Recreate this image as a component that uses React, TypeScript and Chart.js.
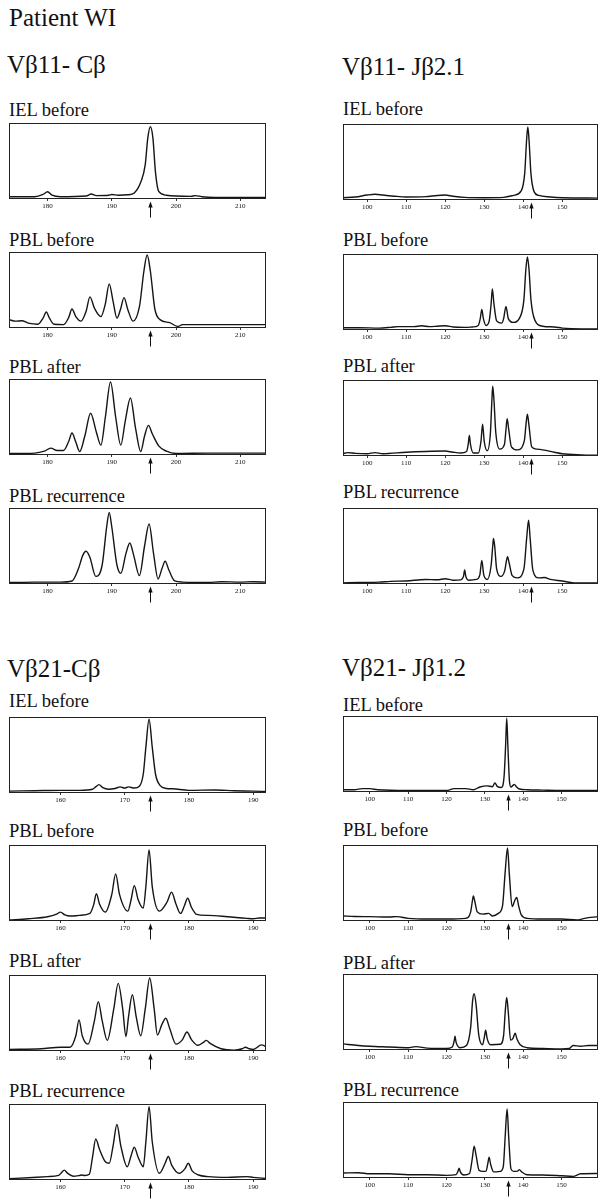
import React, { useEffect, useRef } from "react";
import { Chart, registerables } from "chart.js";

Chart.register(...registerables);

type Pt = [number, number];

// ---- axis data ----
const v11cTicks = [180, 190, 200, 210];
const v11jTicks = [100, 110, 120, 130, 140, 150];
const v21cTicks = [160, 170, 180, 190];
const v21jTicks = [100, 110, 120, 130, 140, 150];

const v11cRange: [number, number] = [174, 214];
const v11jRange: [number, number] = [93.8, 159.2];
const v21cRange: [number, number] = [152, 192];
const v21jRange: [number, number] = [93, 159.5];

const v11cArrow = 196;
const v11jArrow = 142;
const v21cArrow = 174;
const v21jArrow = 136;

// ---- traces (x = size, y = % of panel height) ----
const v11cIelBefore: Pt[] = [[174,3],[178,3],[179.3,6],[180,9.5],[180.7,5],[182,3],[186,4],[186.8,6.5],[187.6,4.5],[189.5,5],[190,6],[191,5],[192.5,5.5],[193.5,8],[194.5,22],[195.2,45],[195.6,80],[196,95],[196.4,80],[196.8,35],[197.3,10],[198.5,5],[200,4],[202.3,3.5],[203,4.5],[204,3],[206,2],[214,2]];
const v11cPblBefore: Pt[] = [[174,11],[175,9],[176,9.5],[177,6.5],[178.5,5],[179.3,13],[179.8,21],[180.3,13],[181,5],[182.5,4.5],[183.3,14],[183.8,25],[184.4,15],[185.2,9],[186,22],[186.6,41],[187.3,26],[188.3,15],[189,32],[189.6,58],[190.2,35],[190.8,13],[191.4,26],[191.9,40],[192.5,24],[193.3,9],[194.3,28],[195,75],[195.5,96],[196,75],[196.7,25],[197.5,11],[199,7],[200.3,2],[201,4.5],[205,4.5],[210,4.5],[214,4.5]];
const v11cPblAfter: Pt[] = [[174,2],[178,2.5],[179.5,5],[180.5,9],[181.5,6],[182.5,6],[183.3,18],[183.8,29],[184.4,17],[185,4.5],[185.8,25],[186.7,55],[187.6,30],[188.3,13],[189,50],[189.8,96],[190.6,50],[191.4,13],[192.1,45],[192.9,75],[193.7,35],[194.5,4.5],[195.1,25],[195.7,39],[196.3,28],[197.3,12],[198.5,5],[200,2],[205,2.5],[210,2.5],[214,2.5]];
const v11cPblRecurrence: Pt[] = [[174,2],[178,2.5],[182,2.5],[183.8,4],[184.8,20],[185.5,38],[186,43],[186.6,35],[187.5,10],[188.5,25],[189.2,75],[189.6,94],[190,75],[190.8,25],[191.4,14],[192.2,40],[192.8,54],[193.4,38],[194.3,11],[195.1,50],[195.8,79],[196.5,40],[197.2,6.5],[197.8,20],[198.3,30],[198.9,18],[199.8,4],[201,2.5],[205,2],[207,3],[210,2.5],[212,3],[214,2.5]];

const v11jIelBefore: Pt[] = [[93.8,3],[97,4],[100,6.5],[102,7.5],[104,6.5],[107,5],[110,4],[115,4.5],[118,6],[120,6.5],[122,5],[125,3.5],[130,3],[135,3.5],[137.5,6],[139.5,12],[140.4,35],[140.9,80],[141.2,96],[141.5,80],[142,35],[142.8,11],[144,6],[147,4],[150,3],[159.2,2.5]];
const v11jPblBefore: Pt[] = [[93.8,3],[98,3],[103,2.5],[106,3.5],[108,4.5],[112,4.5],[114,5.5],[116,4.5],[118,5],[120,5.5],[122,4],[125,3.5],[127,4],[128.5,6],[129,15],[129.4,27],[129.8,15],[130.5,6],[131.3,12],[131.8,35],[132.1,54],[132.5,35],[133.2,12],[134.5,9],[135,15],[135.6,31],[136.2,15],[137.5,10],[139,15],[140.2,40],[140.7,80],[141.1,96],[141.5,80],[142,40],[143,13],[145,5],[148,4],[150,2.5],[155,1.5],[159.2,1.5]];
const v11jPblAfter: Pt[] = [[93.8,3],[95,4.5],[97,3.5],[100,3],[102,4.5],[104,3],[110,5],[115,6],[120,6.5],[122,5],[124,4],[125.5,6],[125.9,15],[126.2,27],[126.5,15],[127.2,4],[128.5,4],[129.2,20],[129.6,42],[130,20],[130.8,7],[131.6,30],[132,75],[132.2,92],[132.5,75],[133,30],[134,9],[135.2,15],[135.6,35],[135.9,49],[136.3,35],[137,12],[138.5,8],[140.3,20],[140.8,45],[141.1,55],[141.5,40],[142.2,12],[143.5,9],[145,8],[148,5],[150,3],[155,1.5],[159.2,1]];
const v11jPblRecurrence: Pt[] = [[93.8,1.5],[98,2],[103,2.5],[106,3.5],[110,4],[115,6],[118,5.5],[120,7],[122,5],[124,5.5],[124.7,10],[125,18.5],[125.3,10],[126,5],[128,6],[128.9,12],[129.4,31],[129.9,12],[130.8,6],[131.8,25],[132.2,50],[132.4,60],[132.7,50],[133.2,20],[134.3,10],[135.3,18],[135.7,30],[136,36],[136.4,28],[137.2,11],[138.5,8],[140.2,20],[140.9,60],[141.4,84],[141.8,60],[142.5,18],[144,8],[145.5,8.5],[147,6],[150,4],[153,1.5],[159.2,1.5]];

const v21cIelBefore: Pt[] = [[152,2.5],[156,3],[160,3.5],[163,3.5],[165,5],[165.5,8],[166,11],[166.6,7],[167.5,5],[168.5,6],[169.3,8],[170,6.5],[170.6,8],[171.5,6.5],[172.3,9],[172.9,25],[173.3,60],[173.8,97],[174.3,60],[174.8,25],[175.5,10],[176.5,6],[177.5,5.5],[180,3.5],[184,4],[187,3],[190,2.5],[192,2]];
const v21cPblBefore: Pt[] = [[152,1.3],[155,3],[158,5.6],[159.4,9],[160,11.7],[160.7,8],[161.5,6.5],[163,7.4],[164.6,10],[165.2,22],[165.6,36],[166.1,22],[167,11.7],[168,35],[168.6,62],[169.2,35],[170.5,13],[171,28],[171.5,46.5],[172.1,28],[172.9,17],[173.3,45],[173.8,93.5],[174.3,45],[175.4,13],[176.6,25],[177.3,38],[178,22],[178.7,10],[179.3,20],[179.8,30],[180.4,18],[181.2,8.7],[183,7.4],[186,5.6],[189,3.5],[190,3],[191,4],[192,4]];
const v21cPblAfter: Pt[] = [[152,2],[157,3],[160,5],[161.5,5],[162.4,20],[162.9,41],[163.4,20],[164.3,9],[165.3,40],[165.9,65],[166.5,40],[167.3,14],[168.3,55],[169,89],[169.7,55],[170.2,19],[170.6,45],[171.2,74],[171.8,45],[172.5,20],[173.2,55],[173.9,96],[174.6,55],[175.1,21],[175.8,35],[176.4,43],[177,30],[178,9],[179,15],[179.7,25],[180.4,15],[181.4,7.5],[182.2,11],[182.7,14],[183.3,10],[185,3],[187,1],[188.3,3],[188.8,5],[189.4,3],[190,2],[191.3,8],[192,6]];
const v21cPblRecurrence: Pt[] = [[152,1.7],[155,3],[158,4.4],[159.7,6],[160.2,10],[160.6,13],[161.1,9],[162,5],[163,6],[163.3,6.5],[163.8,6],[164.5,7.5],[165,30],[165.5,54],[166.1,40],[167,24],[167.6,22],[168.2,45],[168.8,73],[169.4,45],[170.4,17.5],[171,32],[171.5,43],[172.1,30],[172.9,17.5],[173.3,50],[173.8,96.5],[174.3,50],[175.4,8.8],[176.3,22],[176.8,31],[177.3,20],[178.5,8.8],[179.4,15],[179.9,22],[180.5,12],[181.5,6.6],[183,4.4],[186,3.5],[189,4.4],[190,3.5],[192,2]];

const v21jIelBefore: Pt[] = [[93,3],[96,3],[98,4.4],[100,4.4],[102,3],[110,2],[120,2],[122,4.4],[125,4.4],[127,3],[128.7,6.6],[130.5,8],[132,7],[132.6,12],[133.3,7],[134.3,6],[135,20],[135.4,60],[135.7,97],[136,60],[136.4,15],[136.8,6.6],[137.4,9],[137.7,10],[138.2,7],[139,4],[141,3],[145,2.5],[150,2],[159.5,2]];
const v21jPblBefore: Pt[] = [[93,6.6],[96,6],[100,5.7],[105,5.2],[107,5.8],[110,3.5],[115,2.6],[120,2.6],[125,3.5],[126.3,12],[126.7,25],[127,33],[127.4,25],[128,12],[129.5,9],[131,10],[132,6.6],[133.5,10],[134.6,20],[135.3,65],[135.9,96],[136.4,60],[137.1,19],[137.8,27],[138.3,31],[138.8,20],[139.5,8],[141,3.5],[145,2.6],[150,2.6],[154,1.3],[156,3.5],[159.5,5.7]];
const v21jPblAfter: Pt[] = [[93,8],[97,6],[100,5],[105,4],[110,3],[112,4.5],[115,2.5],[120,2],[121.5,4],[122,12],[122.2,18],[122.5,10],[123.5,3],[125.2,6],[126.3,30],[126.8,65],[127.2,74],[127.7,60],[128.4,20],[129.4,7],[129.9,18],[130.2,26],[130.6,15],[131.5,7],[134,7.5],[134.9,20],[135.3,50],[135.7,69],[136.1,50],[136.7,13],[137.3,15],[137.9,22],[138.4,14],[139.2,7],[141,3],[145,2],[150,1.5],[152,2],[153,6],[155,5],[157,6],[159.5,6]];
const v21jPblRecurrence: Pt[] = [[93,6.5],[97,7],[100,5.6],[105,5.6],[110,4.3],[115,4.3],[120,3.5],[122.5,4.5],[123,9],[123.3,13],[123.6,8],[124.5,4],[126,6],[126.7,25],[127.2,42],[127.7,30],[128.5,10],[129.5,8.7],[130.3,9],[130.8,20],[131.1,27.5],[131.5,18],[132.3,8],[134,8.7],[134.8,15],[135.3,55],[135.8,91],[136.2,55],[136.8,12],[137.5,8.7],[138.5,9],[139,11],[139.6,8],[141,4.3],[145,4],[150,3],[153,2.2],[155,5.6],[159.5,6]];

// ---- layout ----
const FONT = "'Liberation Serif', 'Times New Roman', serif";
const BOX_H = 76;
const PAD = 2;
const AXIS_H = 20;

type PanelCfg = {
  label: string;
  series: Pt[];
  ticks: number[];
  range: [number, number];
  arrow: number;
  left: number;
  top: number;
  width: number;
  labelBase: number;
};

const L = { left: 9, width: 257 };
const R = { left: 343, width: 255 };

const panels: PanelCfg[] = [
  { label: "IEL before", series: v11cIelBefore, ticks: v11cTicks, range: v11cRange, arrow: v11cArrow, ...L, top: 123, labelBase: 117 },
  { label: "PBL before", series: v11cPblBefore, ticks: v11cTicks, range: v11cRange, arrow: v11cArrow, ...L, top: 252, labelBase: 247 },
  { label: "PBL after", series: v11cPblAfter, ticks: v11cTicks, range: v11cRange, arrow: v11cArrow, ...L, top: 379, labelBase: 374 },
  { label: "PBL recurrence", series: v11cPblRecurrence, ticks: v11cTicks, range: v11cRange, arrow: v11cArrow, ...L, top: 508, labelBase: 503 },
  { label: "IEL before", series: v11jIelBefore, ticks: v11jTicks, range: v11jRange, arrow: v11jArrow, ...R, top: 124, labelBase: 116 },
  { label: "PBL before", series: v11jPblBefore, ticks: v11jTicks, range: v11jRange, arrow: v11jArrow, ...R, top: 254, labelBase: 247 },
  { label: "PBL after", series: v11jPblAfter, ticks: v11jTicks, range: v11jRange, arrow: v11jArrow, ...R, top: 380, labelBase: 373 },
  { label: "PBL recurrence", series: v11jPblRecurrence, ticks: v11jTicks, range: v11jRange, arrow: v11jArrow, ...R, top: 508, labelBase: 499 },
  { label: "IEL before", series: v21cIelBefore, ticks: v21cTicks, range: v21cRange, arrow: v21cArrow, ...L, top: 717, labelBase: 708 },
  { label: "PBL before", series: v21cPblBefore, ticks: v21cTicks, range: v21cRange, arrow: v21cArrow, ...L, top: 845, labelBase: 838 },
  { label: "PBL after", series: v21cPblAfter, ticks: v21cTicks, range: v21cRange, arrow: v21cArrow, ...L, top: 975, labelBase: 968 },
  { label: "PBL recurrence", series: v21cPblRecurrence, ticks: v21cTicks, range: v21cRange, arrow: v21cArrow, ...L, top: 1104, labelBase: 1098 },
  { label: "IEL before", series: v21jIelBefore, ticks: v21jTicks, range: v21jRange, arrow: v21jArrow, ...R, top: 716, labelBase: 712 },
  { label: "PBL before", series: v21jPblBefore, ticks: v21jTicks, range: v21jRange, arrow: v21jArrow, ...R, top: 845, labelBase: 837 },
  { label: "PBL after", series: v21jPblAfter, ticks: v21jTicks, range: v21jRange, arrow: v21jArrow, ...R, top: 974, labelBase: 970 },
  { label: "PBL recurrence", series: v21jPblRecurrence, ticks: v21jTicks, range: v21jRange, arrow: v21jArrow, ...R, top: 1102, labelBase: 1097 },
];

const headings = [
  { text: "Patient WI", left: 9, base: 26, size: 25 },
  { text: "Vβ11- Cβ", left: 7, base: 73, size: 25 },
  { text: "Vβ11- Jβ2.1", left: 342, base: 75, size: 25 },
  { text: "Vβ21-Cβ", left: 7, base: 677, size: 25 },
  { text: "Vβ21- Jβ1.2", left: 342, base: 676, size: 25 },
];

const framePlugin = {
  id: "frame",
  afterDraw(chart: any, _args: any, opts: any) {
    const { ctx, chartArea: a, scales } = chart;
    ctx.save();
    ctx.strokeStyle = "#222";
    ctx.lineWidth = 1;
    const l = Math.round(a.left) + 0.5;
    const t = Math.round(a.top) + 0.5;
    const r = Math.round(a.right) - 0.5;
    const b = Math.round(a.bottom) - 0.5;
    ctx.strokeRect(l, t, r - l, b - t);
    if (opts && typeof opts.arrow === "number") {
      const x = Math.round(scales.x.getPixelForValue(opts.arrow)) + 0.5;
      const y0 = b + 3;
      ctx.strokeStyle = "#111";
      ctx.fillStyle = "#111";
      ctx.lineWidth = 1;
      ctx.beginPath();
      ctx.moveTo(x, y0 + 4);
      ctx.lineTo(x, y0 + 16);
      ctx.stroke();
      ctx.beginPath();
      ctx.moveTo(x, y0);
      ctx.lineTo(x - 2.2, y0 + 6);
      ctx.lineTo(x + 2.2, y0 + 6);
      ctx.closePath();
      ctx.fill();
    }
    ctx.restore();
  },
};

function Panel({ cfg }: { cfg: PanelCfg }) {
  const ref = useRef<HTMLCanvasElement | null>(null);
  const cw = cfg.width + PAD * 2;
  const ch = BOX_H + PAD + AXIS_H;
  useEffect(() => {
    if (!ref.current) return;
    const chart = new Chart(ref.current, {
      type: "line",
      data: {
        datasets: [
          {
            data: cfg.series.map(([x, y]) => ({ x, y })),
            borderColor: "#151515",
            borderWidth: 1.4,
            pointRadius: 0,
            fill: false,
            cubicInterpolationMode: "monotone",
          } as any,
        ],
      },
      options: {
        animation: false,
        responsive: false,
        maintainAspectRatio: false,
        layout: { padding: { left: PAD, right: PAD, top: PAD, bottom: 0 } },
        plugins: {
          legend: { display: false },
          tooltip: { enabled: false },
          frame: { arrow: cfg.arrow },
        } as any,
        scales: {
          x: {
            type: "linear",
            min: cfg.range[0],
            max: cfg.range[1],
            afterBuildTicks: (s: any) => {
              s.ticks = cfg.ticks.map((v) => ({ value: v }));
            },
            afterFit: (s: any) => {
              s.height = AXIS_H;
            },
            grid: { display: true, drawOnChartArea: false, drawTicks: true, tickLength: 2, color: "#333" },
            border: { display: false },
            ticks: {
              font: { family: FONT, size: 7 },
              color: "#111",
              padding: 1,
              maxRotation: 0,
              autoSkip: false,
            },
          },
          y: { display: false, min: 0, max: 100 },
        },
      } as any,
      plugins: [framePlugin],
    });
    return () => chart.destroy();
  }, [cfg]);
  return (
    <>
      <div
        style={{
          position: "absolute",
          left: cfg.left,
          top: cfg.labelBase - Math.round(0.84 * 18.5),
          fontFamily: FONT,
          fontSize: 18.5,
          lineHeight: 1,
          whiteSpace: "nowrap",
          color: "#111",
        }}
      >
        {cfg.label}
      </div>
      <canvas
        ref={ref}
        width={cw}
        height={ch}
        style={{ position: "absolute", left: cfg.left - PAD, top: cfg.top - PAD, width: cw, height: ch }}
      />
    </>
  );
}

export default function App() {
  return (
    <div
      style={{
        position: "absolute",
        left: 0,
        top: 0,
        width: 607,
        height: 1199,
        overflow: "hidden",
        background: "#fff",
      }}
    >
      {headings.map((h, i) => (
        <div
          key={i}
          style={{
            position: "absolute",
            left: h.left,
            top: h.base - Math.round(0.84 * h.size),
            fontFamily: FONT,
            fontSize: h.size,
            lineHeight: 1,
            whiteSpace: "nowrap",
            color: "#111",
          }}
        >
          {h.text}
        </div>
      ))}
      {panels.map((p, i) => (
        <Panel key={i} cfg={p} />
      ))}
    </div>
  );
}
